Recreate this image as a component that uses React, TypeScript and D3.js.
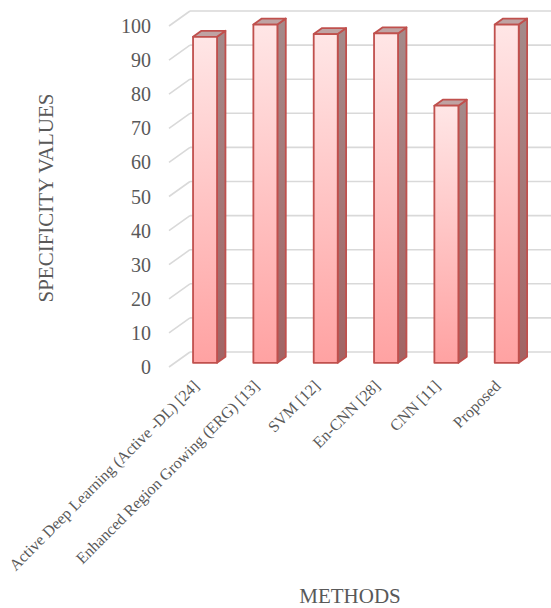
import React from "react";
import * as d3 from "d3";

// Methods compared and their specificity values
const methods = [
  "Active Deep Learning (Active -DL) [24]",
  "Enhanced Region Growing (ERG) [13]",
  "SVM [12]",
  "En-CNN [28]",
  "CNN [11]",
  "Proposed",
];
const specificity = [95.6, 99.2, 96.4, 96.6, 75.4, 99.2];
const yTicks = [0, 10, 20, 30, 40, 50, 60, 70, 80, 90, 100];

const W = 551;
const H = 608;

// Oblique 3-D projection: the back wall sits up and to the right of the floor's front edge
const DEPTH_X = 21;
const DEPTH_Y = -15;
const BAR_POS = 0.28; // fraction of depth where the bar front face sits
const BAR_DEPTH = 0.4; // bar depth as a fraction of the floor depth
const BAR_W = 24;

const FONT = "'Liberation Serif', 'Times New Roman', serif";
const TEXT = "#595959";
const GRID = "#d9d9d9";

export default function App() {
  const x = d3.scaleBand<string>().domain(methods).range([169, 531]);
  const y = d3.scaleLinear().domain([0, 100]).range([367, 26]);

  const bdx = BAR_DEPTH * DEPTH_X;
  const bdy = BAR_DEPTH * DEPTH_Y;
  const ox = BAR_POS * DEPTH_X;
  const oy = BAR_POS * DEPTH_Y;

  const backX0 = x.range()[0] + DEPTH_X;
  const backX1 = x.range()[1] + DEPTH_X;

  return (
    <svg
      width={W}
      height={H}
      style={{ position: "absolute", left: 0, top: 0, background: "#fff" }}
      fontFamily={FONT}
    >
      <defs>
        <linearGradient id="frontFill" x1="0" y1="0" x2="0" y2="1">
          <stop offset="0%" stopColor="#ffe6e6" />
          <stop offset="100%" stopColor="#ffa2a2" />
        </linearGradient>
        <linearGradient id="sideFill" x1="0" y1="0" x2="0" y2="1">
          <stop offset="0%" stopColor="#a48a8a" />
          <stop offset="100%" stopColor="#a26464" />
        </linearGradient>
      </defs>

      {/* side-wall diagonals and back-wall gridlines */}
      <g stroke={GRID} strokeWidth={1.6} fill="none">
        {yTicks.map((t) => (
          <g key={t}>
            <line x1={x.range()[0]} y1={y(t)} x2={backX0} y2={y(t) + DEPTH_Y} />
            <line x1={backX0} y1={y(t) + DEPTH_Y} x2={backX1} y2={y(t) + DEPTH_Y} />
          </g>
        ))}
      </g>

      {/* value axis labels */}
      <g fill={TEXT} fontSize={20} textAnchor="end">
        {yTicks.map((t) => (
          <text key={t} x={151} y={y(t)} dy="0.35em">
            {t}
          </text>
        ))}
      </g>

      {/* bars */}
      <g>
        {methods.map((m, i) => {
          const v = specificity[i];
          const xl = (x(m) as number) + (x.bandwidth() - BAR_W) / 2 + ox;
          const xr = xl + BAR_W;
          const yt = y(v) + oy;
          const yb = y(0) + oy;
          const side = `M${xr},${yt} L${xr + bdx},${yt + bdy} L${xr + bdx},${yb + bdy} L${xr},${yb} Z`;
          const top = `M${xl},${yt} L${xl + bdx},${yt + bdy} L${xr + bdx},${yt + bdy} L${xr},${yt} Z`;
          return (
            <g key={m} stroke="#c0504d" strokeWidth={1.8} strokeLinejoin="round">
              <path d={side} fill="url(#sideFill)" />
              <path d={top} fill="#bfa3a3" />
              <rect x={xl} y={yt} width={BAR_W} height={yb - yt} fill="url(#frontFill)" />
            </g>
          );
        })}
      </g>

      {/* category labels */}
      <g fill={TEXT} fontSize={16} textAnchor="end">
        {methods.map((m) => {
          const cx = (x(m) as number) + x.bandwidth() / 2 + ox;
          const lx = cx - 5;
          const ly = 387;
          return (
            <text key={m} x={lx} y={ly} transform={`rotate(-45, ${lx}, ${ly})`}>
              {m}
            </text>
          );
        })}
      </g>

      {/* axis titles */}
      <text
        x={53}
        y={198}
        fill={TEXT}
        fontSize={21}
        textAnchor="middle"
        transform="rotate(-90, 53, 198)"
      >
        SPECIFICITY VALUES
      </text>
      <text x={350} y={603} fill={TEXT} fontSize={21} textAnchor="middle">
        METHODS
      </text>
    </svg>
  );
}
